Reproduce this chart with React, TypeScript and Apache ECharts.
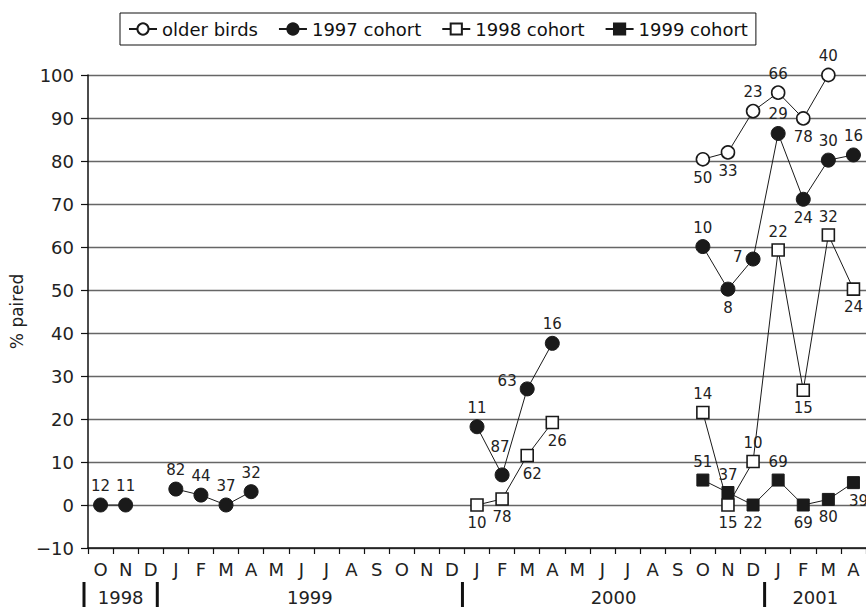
import React, { useEffect, useRef } from 'react';
import * as echarts from 'echarts';

// ---------- data ----------
const months = ['O', 'N', 'D', 'J', 'F', 'M', 'A', 'M', 'J', 'J', 'A', 'S', 'O', 'N', 'D', 'J', 'F', 'M', 'A', 'M', 'J', 'J', 'A', 'S', 'O', 'N', 'D', 'J', 'F', 'M', 'A'];
const yearLabels = ['1998', '1999', '2000', '2001'];
const yearFirstMonth = [0, 3, 15, 27];
const yearLastMonth = [2, 14, 26, 30];

const seriesNames = ['older birds', '1997 cohort', '1998 cohort', '1999 cohort'];

const olderBirds = [null, null, null, null, null, null, null, null, null, null, null, null, null, null, null, null, null, null, null, null, null, null, null, null, 80.4, 82.0, 91.6, 95.9, 89.9, 100, null];
const olderBirdsN = [null, null, null, null, null, null, null, null, null, null, null, null, null, null, null, null, null, null, null, null, null, null, null, null, 50, 33, 23, 66, 78, 40, null];

const cohort1997 = [0, 0, null, 3.7, 2.3, 0, 3.1, null, null, null, null, null, null, null, null, 18.2, 7.0, 27.0, 37.6, null, null, null, null, null, 60.1, 50.2, 57.2, 86.4, 71.1, 80.2, 81.4];
const cohort1997N = [12, 11, null, 82, 44, 37, 32, null, null, null, null, null, null, null, null, 11, 87, 63, 16, null, null, null, null, null, 10, 8, 7, 29, 24, 30, 16];

const cohort1998 = [null, null, null, null, null, null, null, null, null, null, null, null, null, null, null, 0, 1.4, 11.5, 19.2, null, null, null, null, null, 21.5, 0, 10.1, 59.3, 26.7, 62.8, 50.2];
const cohort1998N = [null, null, null, null, null, null, null, null, null, null, null, null, null, null, null, 10, 78, 62, 26, null, null, null, null, null, 14, 15, 10, 22, 15, 32, 24];

const cohort1999 = [null, null, null, null, null, null, null, null, null, null, null, null, null, null, null, null, null, null, null, null, null, null, null, null, 5.8, 2.9, 0, 5.8, 0, 1.3, 5.2];
const cohort1999N = [null, null, null, null, null, null, null, null, null, null, null, null, null, null, null, null, null, null, null, null, null, null, null, null, 51, 37, 22, 69, 69, 80, 39];

// label placement per plotted point (in order of the points), style only
const olderPos = ['B', 'B', 'T', 'T', 'B', 'T'];
const c1997Pos = ['T', 'T', 'T', 'T', 'T', 'T', 'T', 'T2', 'L2', 'T', 'T', 'B', 'L', 'T', 'B', 'T', 'T'];
const c1998Pos = ['B', 'B', 'BR', 'BR', 'T', 'B', 'T', 'T', 'B', 'T', 'B'];
const c1999Pos = ['T', 'T', 'B', 'T', 'B', 'B', 'BR'];

const sepNudge = [-4, -6, -2, -1];

const FONT = 'DejaVu Sans';
const INK = '#1a1a1a';

function labelFor(code: string) {
  const base: any = { show: true, fontSize: 15, fontFamily: FONT, color: '#222', distance: 4 };
  if (code === 'T') return { ...base, position: 'top' };
  if (code === 'T2') return { ...base, position: 'top', offset: [-2, -9] };
  if (code === 'B') return { ...base, position: 'bottom' };
  if (code === 'L') return { ...base, position: 'left', distance: 3, offset: [0, -2] };
  if (code === 'L2') return { ...base, position: 'left', distance: 3, offset: [0, -8] };
  if (code === 'BR') return { ...base, position: 'bottom', offset: [5, 0] };
  return { ...base, position: 'top' };
}

function buildData(values: (number | null)[], ns: (number | null)[], pos: string[]) {
  let k = 0;
  return values.map((v, i) => {
    if (v === null) return null;
    const lab = labelFor(pos[k++] || 'T');
    const n = ns[i];
    return { value: v, label: { ...lab, formatter: () => String(n) } };
  });
}

function makeSeries(name: string, values: any[], ns: any[], pos: string[], symbol: string, size: number, open: boolean) {
  return {
    name,
    type: 'line',
    data: buildData(values, ns, pos),
    symbol,
    symbolSize: size,
    showAllSymbol: true,
    connectNulls: false,
    lineStyle: { color: INK, width: 1 },
    itemStyle: open
      ? { color: '#ffffff', borderColor: INK, borderWidth: 1.6 }
      : { color: INK, borderColor: INK, borderWidth: 1 },
    emphasis: { disabled: true },
    z: 3,
  };
}

export default function App() {
  const ref = useRef<HTMLDivElement>(null);
  useEffect(() => {
    if (!ref.current) return;
    const chart = echarts.init(ref.current, null, { renderer: 'svg' });
    const option: any = {
      animation: false,
      backgroundColor: '#ffffff',
      textStyle: { fontFamily: FONT },
      legend: {
        left: 120,
        top: 13,
        padding: [7, 8],
        borderColor: '#111',
        borderWidth: 1,
        backgroundColor: '#fff',
        itemWidth: 28,
        itemHeight: 14,
        itemGap: 20,
        textStyle: { fontSize: 18, fontFamily: FONT, color: '#111' },
        data: seriesNames,
        selectedMode: false,
      },
      grid: { left: 87, right: -5.4, top: 75, bottom: 60, containLabel: false },
      xAxis: {
        type: 'category',
        data: months,
        boundaryGap: true,
        axisLine: { onZero: false, lineStyle: { color: '#111', width: 1.5 } },
        axisTick: { show: true, interval: 0, length: 6, lineStyle: { color: '#111', width: 1.2 } },
        axisLabel: { interval: 0, fontSize: 18, fontFamily: FONT, color: '#222', margin: 12 },
        splitLine: { show: false },
      },
      yAxis: {
        type: 'value',
        min: -10,
        max: 100,
        interval: 10,
        name: '% paired',
        nameLocation: 'middle',
        nameGap: 63,
        nameTextStyle: { fontSize: 17, fontFamily: FONT, color: '#222' },
        axisLine: { show: true, lineStyle: { color: '#111', width: 1.5 } },
        axisTick: { show: true, length: 7, lineStyle: { color: '#111', width: 1.2 } },
        axisLabel: {
          fontSize: 18,
          fontFamily: FONT,
          color: '#222',
          margin: 14,
          formatter: (v: number) => String(v).replace('-', '\u2212'),
        },
        splitLine: { show: true, lineStyle: { color: '#666666', width: 1.3 } },
      },
      series: [
        makeSeries(seriesNames[0], olderBirds, olderBirdsN, olderPos, 'circle', 13, true),
        makeSeries(seriesNames[1], cohort1997, cohort1997N, c1997Pos, 'circle', 14, false),
        makeSeries(seriesNames[2], cohort1998, cohort1998N, c1998Pos, 'rect', 12, true),
        makeSeries(seriesNames[3], cohort1999, cohort1999N, c1999Pos, 'rect', 12, false),
      ],
    };
    chart.setOption(option);

    const px = (i: number) => chart.convertToPixel({ xAxisIndex: 0 }, i) as number;
    const bw = px(1) - px(0);
    const W = chart.getWidth();
    const graphics: any[] = [];
    yearLabels.forEach((yl, k) => {
      const start = px(yearFirstMonth[k]) - bw / 2 + sepNudge[k];
      const endRaw = px(yearLastMonth[k]) + bw / 2 + (k + 1 < sepNudge.length ? sepNudge[k + 1] : 0);
      const end = Math.min(endRaw, W);
      graphics.push({
        type: 'rect',
        shape: { x: start - 1.5, y: 582, width: 3, height: 25 },
        style: { fill: '#111' },
      });
      graphics.push({
        type: 'text',
        x: (start + end) / 2,
        y: 597,
        style: { text: yl, fontSize: 18, fontFamily: FONT, fill: '#222', align: 'center', verticalAlign: 'middle' },
      });
    });
    chart.setOption({ graphic: graphics });
    return () => chart.dispose();
  }, []);
  return <div ref={ref} style={{ position: 'fixed', left: 0, top: 0, width: 866, height: 608 }} />;
}
